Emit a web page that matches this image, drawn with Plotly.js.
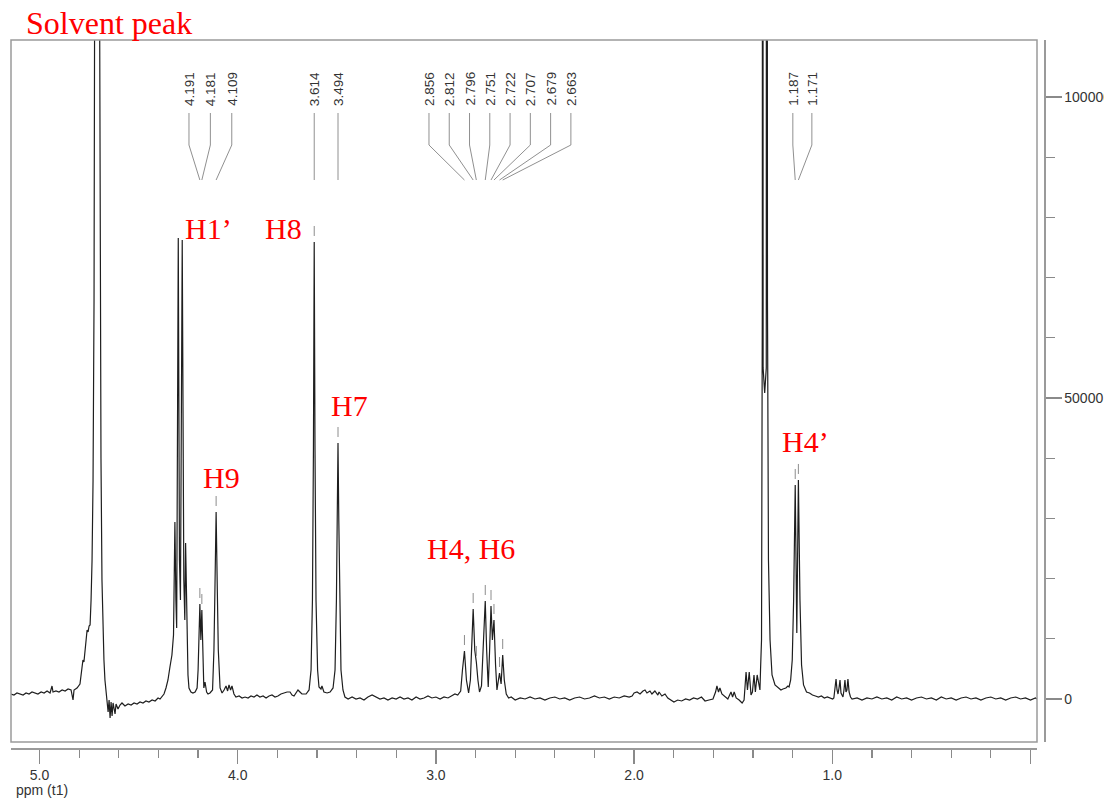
<!DOCTYPE html>
<html>
<head>
<meta charset="utf-8">
<script src="https://cdn.plot.ly/plotly-3.0.1.min.js"></script>
<style>
  html, body { margin: 0; padding: 0; background: #ffffff; }
  #chart { width: 1104px; height: 798px; }
</style>
</head>
<body>
<div id="chart"></div>
<script>
// 1H NMR spectrum: chemical shift (ppm) and intensity, listed region by region.
const edgeRegion = [
  [5.144,830],[5.129,664],[5.114,997],[5.098,830],[5.083,664],[5.068,997],[5.053,830],[5.038,1163],
  [5.023,997],[5.008,830],[4.992,1163],[4.977,997],[4.962,1329],[4.947,997],[4.937,2159],[4.932,1163],
  [4.917,1329],[4.902,1163],[4.886,1495],[4.871,1329],[4.856,1661],[4.841,1495],[4.831,-166],[4.826,1495],
  [4.811,1827],[4.796,2492]
];
const solventRegion = [
  [4.786,5150],[4.781,6480],[4.776,6150],[4.770,8970],[4.765,9800],[4.760,11460],[4.755,11130],[4.750,12130],
  [4.745,12290],[4.740,16440],[4.735,23090],[4.730,36380],[4.725,66270],[4.720,150000],[4.710,260000],
  [4.700,150000],[4.695,80000],[4.690,40000],[4.685,19770],[4.680,11460],[4.675,6480],[4.670,3160],
  [4.665,1500],[4.659,660],[4.654,-2160],[4.649,-170],[4.644,-3160],[4.639,-500],[4.634,-2820],[4.629,-660],
  [4.619,-2490],[4.614,-830],[4.604,-1660],[4.594,-1000]
];
const anomericRegion = [
  [4.584,-660],[4.569,-1160],[4.553,-830],[4.538,-1000],[4.523,-660],[4.508,-830],[4.493,-500],[4.478,-660],
  [4.463,-330],[4.448,-500],[4.432,-170],[4.417,-330],[4.402,170],[4.392,0],[4.382,500],[4.372,830],
  [4.362,1830],[4.352,3160],[4.342,5320],[4.332,7310],[4.324,10630],[4.317,29400],[4.312,16440],[4.308,11790],
  [4.300,76570],[4.294,23090],[4.289,16440],[4.280,76240],[4.272,19770],[4.267,13120],[4.263,25910],
  [4.256,9800],[4.251,3990],[4.246,1830]
];
const h9Region = [
  [4.236,1160],[4.226,1000],[4.215,1160],[4.205,1830],[4.200,4820],[4.191,15780],[4.186,9800],[4.181,14780],
  [4.176,4820],[4.171,1830],[4.165,2820],[4.157,1160],[4.150,830],[4.140,1000],[4.127,1500],[4.120,8140],
  [4.115,18100],[4.109,31060],[4.103,18100],[4.098,8140],[4.089,1830],[4.079,1000],[4.069,1500],[4.059,2160],
  [4.051,1330],[4.044,2330],[4.036,1500],[4.029,2160],[4.019,830],[4.009,330]
];
const midBaseline = [
  [3.993,500],[3.978,170],[3.963,330],[3.948,170],[3.933,500],[3.918,330],[3.903,660],[3.888,330],
  [3.872,500],[3.857,170],[3.842,500],[3.827,660],[3.812,330],[3.797,500],[3.782,830],[3.766,1000],
  [3.751,1160],[3.736,1160],[3.726,660],[3.716,500],[3.706,1000],[3.696,1500],[3.686,1160],[3.676,830]
];
const h8h7Region = [
  [3.655,830],[3.640,1500],[3.630,4820],[3.623,16440],[3.618,41360],[3.614,75910],[3.610,41360],[3.605,16440],
  [3.597,4820],[3.590,1990],[3.580,1660],[3.575,2160],[3.565,1160],[3.549,1000],[3.534,1160],[3.519,1830],
  [3.509,4820],[3.502,16440],[3.498,29730],[3.494,42520],[3.490,29730],[3.486,16440],[3.479,4820],
  [3.469,1500],[3.459,330]
];
const upperBaseline = [
  [3.443,0],[3.423,330],[3.403,0],[3.383,170],[3.363,-170],[3.343,330],[3.322,660],[3.302,330],[3.282,0],
  [3.262,170],[3.242,-170],[3.221,170],[3.201,0],[3.181,330],[3.161,0],[3.141,170],[3.121,-170],[3.100,330],
  [3.080,0],[3.060,170],[3.040,500],[3.020,170],[3.000,330],[2.979,0],[2.959,330],[2.939,170],[2.919,500],
  [2.904,830]
];
const h4h6Region = [
  [2.890,660],[2.875,1330],[2.866,4820],[2.856,7970],[2.846,3160],[2.835,1000],[2.826,3160],[2.819,8970],
  [2.812,14950],[2.804,8140],[2.796,6150],[2.788,3160],[2.780,1160],[2.770,2160],[2.760,9800],[2.751,16280],
  [2.744,8140],[2.736,1990],[2.729,8140],[2.722,15450],[2.715,9800],[2.707,13120],[2.699,5650],[2.692,1500],
  [2.686,2820],[2.679,4320],[2.671,2490],[2.663,7310],[2.655,3160],[2.645,830],[2.633,170],[2.620,330]
];
const lowerBaseline = [
  [2.600,-170],[2.575,170],[2.550,0],[2.525,330],[2.500,0],[2.475,170],[2.450,-170],[2.425,170],[2.400,330],
  [2.375,0],[2.350,170],[2.325,-170],[2.300,170],[2.275,330],[2.250,0],[2.225,170],[2.200,500],[2.175,170],
  [2.150,330],[2.125,0],[2.100,330],[2.075,170],[2.050,500],[2.025,330],[2.010,500],[2.000,1000],[1.985,1160],
  [1.970,830],[1.955,1330],[1.945,1500],[1.935,1000],[1.920,1330],[1.910,830],[1.895,1330],[1.880,660],
  [1.874,1160],[1.860,500],[1.844,830],[1.830,170],[1.815,-170],[1.799,-500],[1.780,-170],[1.760,-330],
  [1.740,0],[1.720,-170],[1.700,170],[1.680,0],[1.660,330],[1.642,-330],[1.622,-170]
];
const methylRegion = [
  [1.602,0],[1.589,1160],[1.582,2160],[1.574,1160],[1.567,1830],[1.557,830],[1.542,330],[1.527,0],
  [1.511,1160],[1.503,330],[1.495,1160],[1.485,170],[1.470,-170],[1.455,-660],[1.445,-170],[1.440,2330],
  [1.435,4490],[1.428,1500],[1.419,4490],[1.410,660],[1.403,1160],[1.395,3990],[1.388,1160],[1.379,3990],
  [1.370,1830],[1.365,1500],[1.362,4820],[1.357,9800],[1.353,66270],[1.351,400000],[1.349,55000],
  [1.341,50830],[1.333,55000],[1.331,400000],[1.327,66270],[1.322,23090],[1.314,9800],[1.304,3990],
  [1.289,2330],[1.274,1830],[1.259,1500],[1.249,1660],[1.234,1830],[1.224,2160]
];
const h4pRegion = [
  [1.218,2000],[1.210,3160],[1.202,6480],[1.195,16440],[1.187,35550],[1.179,10960],[1.171,36380],
  [1.163,16440],[1.155,5650],[1.145,2330],[1.130,1160],[1.115,1000],[1.100,660],[1.085,500],[1.070,330],
  [1.055,500],[1.040,170],[1.025,330],[1.010,170],[0.998,0]
];
const smallMultiplet = [
  [0.992,170],[0.986,1500],[0.981,3320],[0.976,1500],[0.971,830],[0.966,1830],[0.961,3160],[0.956,1000],
  [0.946,330],[0.941,1500],[0.936,3160],[0.931,1160],[0.926,1500],[0.921,3320],[0.915,1160],[0.908,330],
  [0.900,0]
];
const tailBaseline = [
  [0.875,170],[0.850,-170],[0.825,170],[0.800,0],[0.775,330],[0.750,0],[0.725,170],[0.700,-170],[0.675,330],
  [0.650,0],[0.625,170],[0.600,-170],[0.575,170],[0.550,330],[0.525,0],[0.500,170],[0.475,-170],[0.450,330],
  [0.425,0],[0.400,170],[0.375,-170],[0.350,170],[0.325,330],[0.300,0],[0.275,170],[0.250,-170],[0.225,170],
  [0.200,330],[0.175,0],[0.150,170],[0.125,-170],[0.100,170],[0.075,330],[0.050,0],[0.025,170],[0.000,-170],
  [-0.025,170],[-0.033,0]
];

// Picked peak positions (ppm)
const pickShifts = [4.191, 4.181, 4.109, 3.614, 3.494, 2.856, 2.812, 2.796, 2.751, 2.722, 2.707, 2.679, 2.663, 1.187, 1.171];

// Signal assignments
const assignLabels = ['H1’', 'H8', 'H7', 'H9', 'H4, H6', 'H4’'];
const solventLabel = 'Solvent peak';

// Axis ticks
const xTickValues = [5, 4, 3, 2, 1, 0];
const xTickText = ['5.0', '4.0', '3.0', '2.0', '1.0', ''];
const yTickValues = [0, 50000, 100000];
const yTickText = ['0', '50000', '100000'];

// ---------------------------------------------------------------
const spectrum = [].concat(edgeRegion, solventRegion, anomericRegion, h9Region, midBaseline,
  h8h7Region, upperBaseline, h4h6Region, lowerBaseline, methylRegion, h4pRegion, smallMultiplet, tailBaseline);
const shift = spectrum.map(p => p[0]);
const intensity = spectrum.map(p => p[1]);

function intensityAt(ppm) {
  let best = 0;
  for (let i = 1; i < shift.length; i++) {
    if (Math.abs(shift[i] - ppm) < Math.abs(shift[best] - ppm)) best = i;
  }
  return intensity[best];
}

// Plot geometry (pixels)
const M = { l: 11, r: 60, t: 40, b: 50 };
const plotW = 1104 - M.l - M.r;
const plotH = 798 - M.t - M.b;
const frameRight = 1037, frameBottom = 742;
const xDomainEnd = (frameRight - M.l) / plotW;
const yDomainStart = (798 - M.b - frameBottom) / plotH;
const py = Y => (798 - M.b - Y) / plotH;          // page pixel row -> paper y
const px = X => (X - M.l) / plotW;                 // page pixel column -> paper x

const gray = '#9a9a9a';
const tickGray = '#8a8a8a';
const sans = 'Liberation Sans, Arial, sans-serif';
const serif = 'Liberation Serif, Times New Roman, serif';

// Pick label layout: groups of labels fanned out above the spectrum
const pickGroups = [
  { from: 0, to: 2, first: 4.246, step: 0.108 },
  { from: 3, to: 4, first: null, step: null },
  { from: 5, to: 12, first: 3.035, step: 0.1023 },
  { from: 13, to: 14, first: 1.199, step: 0.096 }
];

const shapes = [];
const annotations = [];

// frame around the data area
shapes.push({
  type: 'rect', xref: 'paper', yref: 'paper',
  x0: 0, x1: xDomainEnd, y0: yDomainStart, y1: 1,
  line: { color: gray, width: 1.5 }, layer: 'above'
});

pickGroups.forEach(g => {
  for (let i = g.from; i <= g.to; i++) {
    const pick = pickShifts[i];
    const lx = g.first === null ? pick : g.first - (i - g.from) * g.step;
    shapes.push({
      type: 'path', xref: 'x', yref: 'paper',
      path: `M ${lx},${py(113)} L ${lx},${py(145)} L ${pick},${py(180)}`,
      line: { color: '#909090', width: 1 }
    });
    annotations.push({
      x: lx, y: py(108), xref: 'x', yref: 'paper',
      text: pick.toFixed(3), textangle: -90, showarrow: false,
      xanchor: 'center', yanchor: 'bottom',
      font: { family: sans, size: 13.5, color: '#333333' }
    });
    // short marker just above each picked peak
    shapes.push({
      type: 'line', xref: 'x', yref: 'y', ysizemode: 'pixel',
      yanchor: intensityAt(pick), x0: pick, x1: pick, y0: 6, y1: 16,
      line: { color: '#8c8c8c', width: 1 }
    });
  }
});

// assignment labels
const assignPos = [
  [4.150, 78230], [3.771, 78230], [3.438, 48670], [4.084, 36710], [2.823, 25080], [1.133, 42850]
];
assignLabels.forEach((t, i) => {
  annotations.push({
    x: assignPos[i][0], y: assignPos[i][1], xref: 'x', yref: 'y',
    text: t, showarrow: false, xanchor: 'center', yanchor: 'middle',
    font: { family: serif, size: 30, color: '#ff0000' }
  });
});
annotations.push({
  x: px(24), y: py(23), xref: 'paper', yref: 'paper',
  text: solventLabel, showarrow: false, xanchor: 'left', yanchor: 'middle',
  font: { family: serif, size: 32, color: '#ff0000' }
});
annotations.push({
  x: px(14), y: py(790), xref: 'paper', yref: 'paper',
  text: 'ppm (t1)', showarrow: false, xanchor: 'left', yanchor: 'middle',
  font: { family: sans, size: 14, color: '#333333' }
});

const trace = {
  type: 'scatter', mode: 'lines', x: shift, y: intensity,
  line: { color: '#1e1e1e', width: 1.2 }, hoverinfo: 'skip'
};

const layout = {
  width: 1104, height: 798,
  margin: M,
  paper_bgcolor: '#ffffff', plot_bgcolor: '#ffffff',
  showlegend: false,
  xaxis: {
    domain: [0, xDomainEnd], range: [5.144, -0.033], autorange: false,
    anchor: 'free', position: 0,
    showgrid: false, zeroline: false,
    showline: true, linecolor: gray, linewidth: 1.5,
    ticks: 'outside', ticklen: 14, tickwidth: 1.2, tickcolor: tickGray,
    tickmode: 'array', tickvals: xTickValues, ticktext: xTickText,
    tickfont: { family: sans, size: 14, color: '#333333' },
    minor: { tickmode: 'linear', tick0: 0, dtick: 0.2, ticks: 'outside', ticklen: 8, tickwidth: 1.2, tickcolor: tickGray, showgrid: false }
  },
  yaxis: {
    domain: [yDomainStart, 1], range: [-7142, 109460], autorange: false,
    side: 'right', anchor: 'free', position: 1,
    showgrid: false, zeroline: false,
    showline: true, linecolor: gray, linewidth: 1.5,
    ticks: 'outside', ticklen: 16, tickwidth: 1.2, tickcolor: tickGray,
    tickmode: 'array', tickvals: yTickValues, ticktext: yTickText,
    tickfont: { family: sans, size: 14, color: '#333333' },
    minor: { tickmode: 'linear', tick0: 0, dtick: 10000, ticks: 'outside', ticklen: 9, tickwidth: 1.2, tickcolor: tickGray, showgrid: false }
  },
  shapes: shapes,
  annotations: annotations
};

Plotly.newPlot('chart', [trace], layout, { staticPlot: true, displayModeBar: false });
</script>
</body>
</html>
